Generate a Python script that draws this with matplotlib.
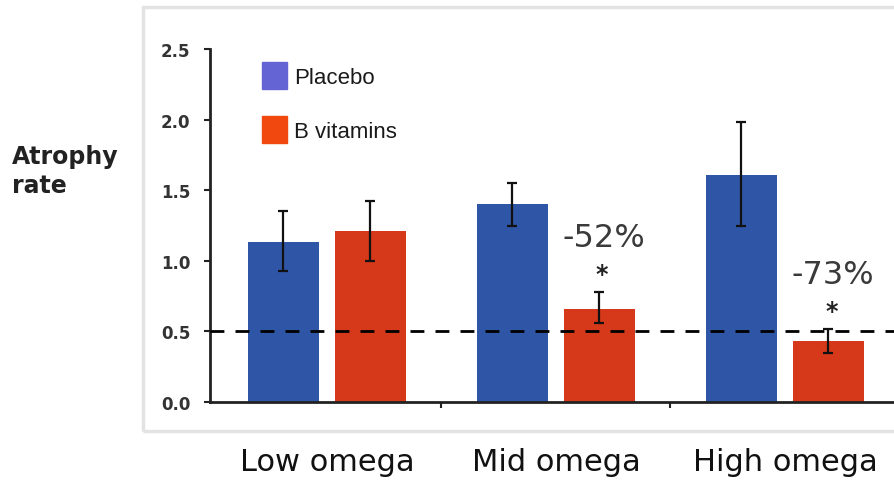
import numpy as np
import matplotlib
matplotlib.use("Agg")
import matplotlib.pyplot as plt
import matplotlib.transforms as mtransforms
from matplotlib.patches import Rectangle

groups = ["Low omega", "Mid omega", "High omega"]
placebo = [1.13, 1.40, 1.61]
placebo_lo = [0.93, 1.25, 1.25]
placebo_hi = [1.35, 1.55, 1.98]
bvit = [1.21, 0.66, 0.43]
bvit_lo = [1.00, 0.56, 0.35]
bvit_hi = [1.42, 0.78, 0.52]
changes = ["", "-52%", "-73%"]
yticks = [0.0, 0.5, 1.0, 1.5, 2.0, 2.5]

BLUE = "#2f56a6"
RED = "#d6381a"
BLUE_KEY = "#6464d4"
RED_KEY = "#f0480f"

W, H = 895, 481
fig = plt.figure(figsize=(W / 100, H / 100), dpi=100)

# light frame around the plotting panel
fig.patches.append(Rectangle((143 / W, 1 - 432 / H), 1.0, (432 - 8) / H,
                             transform=fig.transFigure, fill=False,
                             edgecolor="#e3e3e3", lw=2.5, zorder=0))

ax = fig.add_axes([210 / W, 1 - 403 / H, 1 - 210 / W, (403 - 50) / H])
x = np.arange(len(groups))
off, bw = 0.19, 0.31

pb = np.array(placebo)
bv = np.array(bvit)
ax.bar(x - off, pb, bw, color=BLUE, zorder=2)
ax.bar(x + off, bv, bw, color=RED, zorder=2)
ax.errorbar(x - off, pb, yerr=[pb - np.array(placebo_lo), np.array(placebo_hi) - pb],
            fmt="none", ecolor="#111111", elinewidth=1.6, capsize=3.5, capthick=1.6, zorder=3)
ax.errorbar(x + off, bv, yerr=[bv - np.array(bvit_lo), np.array(bvit_hi) - bv],
            fmt="none", ecolor="#111111", elinewidth=1.6, capsize=3.5, capthick=1.6, zorder=3)

ax.axhline(0.5, color="black", ls=(0, (5, 4)), lw=2, zorder=4)

# percentage change and significance star above the B vitamin bars
for i, txt in enumerate(changes):
    if not txt:
        continue
    top = bvit_hi[i]
    ax.annotate(txt, (x[i] + off, top), xytext=(3, 39), textcoords="offset points",
                ha="center", va="center", fontsize=23, color="#3a3a3a")
    ax.annotate("*", (x[i] + off, top), xytext=(2, 13), textcoords="offset points",
                ha="center", va="center", fontsize=17, fontweight="bold", color="#222222")

ax.set_xlim(-0.51, (W - 327) / 229)
ax.set_ylim(0, 2.5)
ax.set_yticks(yticks)
ax.set_yticklabels([f"{v:.1f}" for v in yticks], fontsize=12, fontweight="bold", color="#333333")
ax.set_xticks(x[:-1] + 0.5)
ax.set_xticklabels([])
ax.tick_params(axis="both", direction="out", length=4, width=1.5, color="#222222")
ax.tick_params(axis="y", pad=10)
for s in ["top", "right"]:
    ax.spines[s].set_visible(False)
for s in ["left", "bottom"]:
    ax.spines[s].set_linewidth(2)
    ax.spines[s].set_color("#222222")
ax.patch.set_alpha(0)

# group names under the panel frame
lab_tr = mtransforms.blended_transform_factory(ax.transData, fig.transFigure)
for i, g in enumerate(groups):
    ax.text(x[i], 1 - 471 / H, g, transform=lab_tr, ha="center", va="baseline",
            fontsize=22, color="#111111")

fig.text(12 / W, 1 - 145 / H, "Atrophy\nrate", ha="left", va="top", fontsize=17,
         fontweight="bold", color="#222222", linespacing=1.25)

# key
for k, (lab, col) in enumerate([("Placebo", BLUE_KEY), ("B vitamins", RED_KEY)]):
    y0 = 63 + 54 * k
    fig.patches.append(Rectangle((262 / W, 1 - (y0 + 27) / H), 25 / W, 27 / H,
                                 transform=fig.transFigure, color=col))
    fig.text(294 / W, 1 - (y0 + 15) / H, lab, ha="left", va="center", fontsize=16,
             family="Liberation Sans", color="#1a1a1a")

fig.savefig("out.png", dpi=100, facecolor="white")
